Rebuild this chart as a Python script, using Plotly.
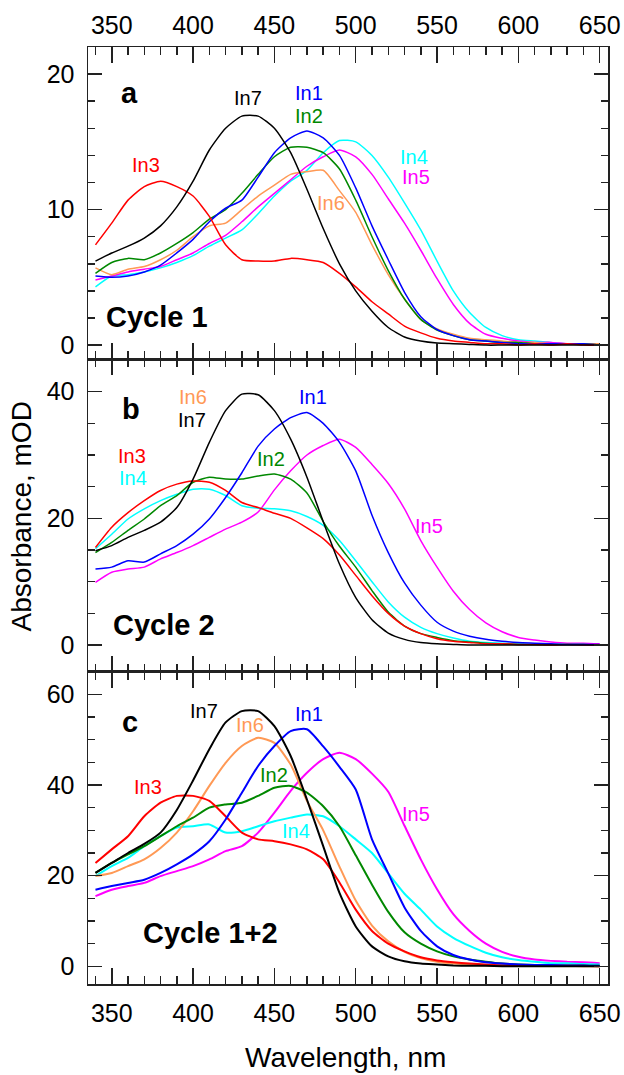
import plotly.graph_objects as go
from plotly.subplots import make_subplots

# ---------------- data ----------------
wavelength = [340, 350, 360, 370, 380, 390, 400, 410, 420, 430, 440, 450, 460, 470, 480, 490,
              500, 510, 520, 530, 540, 550, 560, 570, 580, 590, 600, 610, 620, 630, 640, 650]

# Panel a - Cycle 1
a_in1 = [5.1, 5.0, 5.1, 5.4, 5.9, 6.8, 7.8, 9.1, 10.1, 10.7, 12.4, 14.2, 15.3, 15.8, 15.3, 14.0,
         11.6, 8.8, 6.3, 3.9, 2.1, 1.15, 0.7, 0.4, 0.3, 0.2, 0.1, 0.1, 0.1, 0.1, 0.1, 0.0]
a_in2 = [5.3, 6.1, 6.4, 6.3, 6.8, 7.5, 8.3, 9.3, 10.0, 11.2, 12.6, 13.9, 14.6, 14.6, 14.2, 13.0,
         10.7, 8.0, 5.5, 3.4, 1.9, 1.1, 0.7, 0.4, 0.3, 0.2, 0.2, 0.1, 0.1, 0.1, 0.1, 0.0]
a_in3 = [7.4, 9.0, 10.7, 11.7, 12.1, 11.7, 11.0, 9.5, 7.4, 6.3, 6.2, 6.2, 6.4, 6.3, 6.1, 5.3,
         4.3, 3.2, 2.3, 1.4, 0.9, 0.5, 0.3, 0.2, 0.1, 0.1, 0.0, 0.1, 0.0, 0.1, 0.0, 0.0]
a_in4 = [4.3, 5.1, 5.2, 5.4, 5.7, 6.1, 6.6, 7.3, 7.9, 8.5, 9.7, 11.0, 12.1, 12.9, 14.2, 15.1,
         15.0, 14.0, 12.4, 10.5, 8.5, 6.2, 4.0, 2.4, 1.3, 0.7, 0.4, 0.3, 0.2, 0.1, 0.1, 0.1]
a_in5 = [4.8, 5.1, 5.4, 5.6, 5.8, 6.3, 6.8, 7.5, 8.1, 9.1, 10.2, 11.2, 12.2, 13.2, 13.9, 14.4,
         13.9, 12.6, 10.8, 9.0, 7.0, 4.9, 3.0, 1.6, 0.8, 0.5, 0.3, 0.2, 0.2, 0.1, 0.1, 0.1]
a_in6 = [5.7, 5.2, 5.6, 5.8, 6.3, 7.0, 8.0, 8.8, 9.0, 10.0, 11.0, 11.8, 12.6, 12.8, 12.9, 11.4,
         9.8, 7.4, 5.2, 3.4, 1.9, 1.2, 0.8, 0.5, 0.4, 0.3, 0.2, 0.2, 0.1, 0.1, 0.1, 0.1]
a_in7 = [6.2, 6.8, 7.3, 7.9, 8.8, 10.2, 12.1, 14.4, 16.0, 16.9, 16.9, 16.0, 14.2, 11.5, 8.6, 6.0,
         4.0, 2.5, 1.3, 0.6, 0.3, 0.15, 0.1, 0.05, 0.0, 0.0, 0.0, 0.0, 0.0, 0.0, 0.0, 0.0]

# Panel b - Cycle 2
b_in1 = [12.0, 12.3, 13.3, 13.1, 14.4, 15.7, 17.5, 19.9, 23.3, 27.2, 31.4, 34.1, 35.9, 36.7, 35.0, 32.0,
         27.5, 20.5, 14.6, 9.8, 6.3, 3.6, 2.2, 1.4, 0.9, 0.6, 0.4, 0.3, 0.2, 0.1, 0.1, 0.1]
b_in2 = [14.6, 16.2, 18.1, 19.9, 22.0, 23.6, 25.7, 26.5, 26.2, 26.2, 26.7, 27.0, 26.2, 24.0, 19.5, 15.6,
         12.3, 8.6, 5.2, 3.0, 1.8, 1.2, 0.7, 0.5, 0.3, 0.2, 0.1, 0.1, 0.1, 0.1, 0.1, 0.0]
b_in3 = [15.4, 18.6, 20.9, 22.8, 24.4, 25.4, 25.9, 25.7, 24.4, 22.5, 21.7, 20.8, 20.0, 18.5, 16.8, 14.2,
         11.0, 7.8, 5.0, 3.0, 1.8, 1.0, 0.6, 0.4, 0.2, 0.2, 0.1, 0.1, 0.0, 0.1, 0.0, 0.0]
b_in4 = [15.2, 17.5, 19.9, 21.5, 22.8, 23.8, 24.6, 24.6, 23.6, 22.0, 21.6, 21.5, 21.2, 20.3, 18.9, 16.5,
         13.3, 10.0, 6.8, 4.4, 2.8, 1.8, 1.1, 0.6, 0.4, 0.3, 0.2, 0.1, 0.1, 0.1, 0.1, 0.0]
b_in5 = [9.9, 11.5, 12.0, 12.3, 13.6, 14.6, 15.7, 17.0, 18.3, 19.4, 21.0, 24.5, 27.5, 30.0, 31.5, 32.5,
         31.2, 28.5, 25.5, 21.5, 16.5, 12.3, 8.5, 5.6, 3.5, 2.1, 1.2, 0.8, 0.5, 0.3, 0.3, 0.2]
b_in7 = [14.9, 15.7, 17.0, 18.1, 19.4, 21.7, 26.2, 32.0, 37.0, 39.6, 39.5, 37.0, 32.5, 26.5, 19.5, 12.8,
         7.5, 4.0, 1.9, 0.9, 0.4, 0.2, 0.1, 0.0, 0.0, 0.0, 0.0, 0.0, 0.0, 0.0, 0.0, 0.0]

# Panel c - Cycle 1+2
c_in1 = [16.9, 17.7, 18.4, 19.1, 20.6, 22.5, 24.7, 27.6, 32.4, 38.3, 44.2, 48.6, 51.9, 52.3, 48.5, 44.0,
         39.0, 28.0, 20.5, 13.0, 7.8, 4.4, 2.5, 1.5, 0.9, 0.6, 0.4, 0.3, 0.3, 0.2, 0.2, 0.1]
c_in2 = [20.6, 22.8, 24.7, 26.5, 28.7, 30.9, 32.8, 35.0, 35.7, 36.1, 37.6, 39.4, 39.8, 38.3, 35.3, 30.9,
         24.5, 18.0, 12.0, 7.5, 5.0, 3.3, 2.2, 1.5, 1.0, 0.6, 0.4, 0.3, 0.2, 0.2, 0.2, 0.1]
c_in3 = [22.8, 25.8, 28.7, 33.1, 36.1, 37.6, 37.6, 36.5, 33.1, 29.5, 28.0, 27.6, 26.9, 25.8, 23.6, 18.5,
         12.5, 7.8, 5.0, 3.3, 2.0, 1.3, 0.9, 0.6, 0.4, 0.2, 0.2, 0.1, 0.1, 0.1, 0.1, 0.0]
c_in4 = [19.9, 22.1, 23.9, 26.5, 28.7, 30.6, 30.9, 31.3, 29.5, 29.8, 30.9, 32.0, 32.8, 33.5, 33.1, 30.9,
         28.0, 25.0, 20.5, 16.0, 12.5, 8.8, 6.3, 4.5, 3.0, 2.0, 1.4, 1.0, 0.7, 0.7, 0.5, 0.4]
c_in5 = [15.5, 16.9, 17.7, 18.4, 19.9, 21.0, 22.1, 23.6, 25.4, 26.5, 29.5, 33.9, 38.7, 42.7, 45.7, 47.1,
         45.7, 42.5, 38.5, 31.0, 23.6, 17.0, 11.5, 7.8, 5.0, 3.2, 2.1, 1.5, 1.2, 1.0, 0.9, 0.7]
c_in6 = [19.9, 20.6, 22.1, 23.6, 26.1, 29.5, 34.2, 39.8, 44.9, 48.6, 50.4, 49.3, 44.5, 36.5, 30.0, 22.0,
         14.5, 9.0, 5.5, 3.2, 1.8, 1.0, 0.6, 0.4, 0.2, 0.2, 0.1, 0.1, 0.1, 0.1, 0.0, 0.0]
c_in7 = [20.6, 22.8, 25.0, 27.0, 29.5, 34.5, 41.0, 47.9, 53.8, 56.3, 56.3, 53.0, 46.4, 36.8, 26.5, 16.2,
         8.8, 4.4, 2.2, 1.1, 0.6, 0.4, 0.2, 0.1, 0.1, 0.0, 0.0, 0.0, 0.0, 0.0, 0.0, 0.0]

colors = {"In1": "#0000FF", "In2": "#008800", "In3": "#FF0000", "In4": "#00FFFF",
          "In5": "#FF00FF", "In6": "#FF9955", "In7": "#000000"}

panel_series = [
    {"In4": a_in4, "In5": a_in5, "In6": a_in6, "In2": a_in2, "In1": a_in1, "In3": a_in3, "In7": a_in7},
    {"In5": b_in5, "In4": b_in4, "In2": b_in2, "In3": b_in3, "In1": b_in1, "In7": b_in7},
    {"In5": c_in5, "In4": c_in4, "In6": c_in6, "In2": c_in2, "In3": c_in3, "In1": c_in1, "In7": c_in7},
]

# label positions (wavelength, absorbance)
panel_labels = [
    [("In7", 433.5, 18.2), ("In1", 471, 18.6), ("In2", 471, 16.9), ("In3", 371, 13.3),
     ("In4", 536, 13.9), ("In5", 537, 12.4), ("In6", 485, 10.5)],
    [("In6", 400, 39.1), ("In7", 399.5, 35.6), ("In1", 474, 39.1), ("In2", 448, 29.3),
     ("In3", 362.5, 29.8), ("In4", 363, 26.3), ("In5", 545, 18.8)],
    [("In7", 407, 56.3), ("In6", 435, 53.2), ("In1", 471, 55.6), ("In2", 449.5, 42.3),
     ("In3", 372, 39.5), ("In4", 463, 29.8), ("In5", 537, 33.5)],
]
panel_letters = [("a", 361, 18.6), ("b", 362, 37.2), ("c", 361, 54.0)]
panel_cycles = [("Cycle 1", 378, 2.1), ("Cycle 2", 382, 3.1), ("Cycle 1+2", 410.5, 7.4)]

y_ranges = [[-1.05, 22], [-4.2, 45.1], [-3.9, 65]]
y_dticks = [10, 20, 20]
y_minor = [2, 5, 5]
line_widths = [1.5, 1.5, 2.0]

FONT = "Liberation Sans, Arial, Helvetica, sans-serif"
AXC = "#222222"

fig = make_subplots(rows=3, cols=1, shared_xaxes=True, vertical_spacing=0)

for i, series in enumerate(panel_series):
    for name, vals in series.items():
        fig.add_trace(go.Scatter(x=wavelength, y=vals, mode="lines", name=name,
                                 line=dict(color=colors[name], width=line_widths[i],
                                           shape="spline", smoothing=0.6),
                                 showlegend=False, hoverinfo="skip"),
                      row=i + 1, col=1)

annotations = []
for i in range(3):
    xr = "x" if i == 0 else f"x{i+1}"
    yr = "y" if i == 0 else f"y{i+1}"
    for name, xv, yv in panel_labels[i]:
        annotations.append(dict(x=xv, y=yv, xref=xr, yref=yr, text=name, showarrow=False,
                                font=dict(family=FONT, size=20, color=colors[name]),
                                xanchor="center", yanchor="middle"))
    t, xv, yv = panel_letters[i]
    annotations.append(dict(x=xv, y=yv, xref=xr, yref=yr, text=f"<b>{t}</b>", showarrow=False,
                            font=dict(family=FONT, size=29, color="black"),
                            xanchor="center", yanchor="middle"))
    t, xv, yv = panel_cycles[i]
    annotations.append(dict(x=xv, y=yv, xref=xr, yref=yr, text=f"<b>{t}</b>", showarrow=False,
                            font=dict(family=FONT, size=29, color="black"),
                            xanchor="center", yanchor="middle"))

annotations.append(dict(x=-0.1274, y=0.4987, xref="paper", yref="paper", text="Absorbance, mOD",
                        textangle=-90, showarrow=False, xanchor="center", yanchor="middle",
                        font=dict(family=FONT, size=28, color="black")))
annotations.append(dict(x=0.4955, y=-0.0787, xref="paper", yref="paper", text="Wavelength, nm",
                        showarrow=False, xanchor="center", yanchor="middle",
                        font=dict(family=FONT, size=28, color="black")))

fig.update_xaxes(range=[335.4, 655.1], tick0=350, dtick=50, ticks="inside", ticklen=16,
                 tickwidth=1.5, tickcolor=AXC, showline=True, linecolor=AXC, linewidth=1.5,
                 mirror="allticks", showgrid=False, zeroline=False, automargin=False,
                 tickfont=dict(family=FONT, size=25, color="black"),
                 minor=dict(tick0=350, dtick=10, ticks="inside", ticklen=8, tickwidth=1.5,
                            tickcolor=AXC, showgrid=False))
fig.update_xaxes(row=1, col=1, side="top", showticklabels=True, ticklabelstandoff=2)
fig.update_xaxes(row=2, col=1, showticklabels=False)
fig.update_xaxes(row=3, col=1, showticklabels=True, ticklabelstandoff=6)

for i in range(3):
    fig.update_yaxes(row=i + 1, col=1, range=y_ranges[i], tick0=0, dtick=y_dticks[i],
                     ticks="inside", ticklen=14, tickwidth=1.5, tickcolor=AXC,
                     showline=True, linecolor=AXC, linewidth=1.5, mirror="allticks",
                     showgrid=False, zeroline=False, ticklabelstandoff=7, automargin=False,
                     tickfont=dict(family=FONT, size=25, color="black"),
                     minor=dict(tick0=0, dtick=y_minor[i], ticks="inside", ticklen=7,
                                tickwidth=1.5, tickcolor=AXC, showgrid=False))

fig.update_layout(width=624, height=1075, margin=dict(l=88, r=16, t=47, b=91, autoexpand=False),
                  plot_bgcolor="white", paper_bgcolor="white", showlegend=False,
                  annotations=annotations)

fig.write_html("out.html", config={"displayModeBar": False, "staticPlot": True},
               post_script="document.body.style.margin='0';document.body.style.padding='0';")
